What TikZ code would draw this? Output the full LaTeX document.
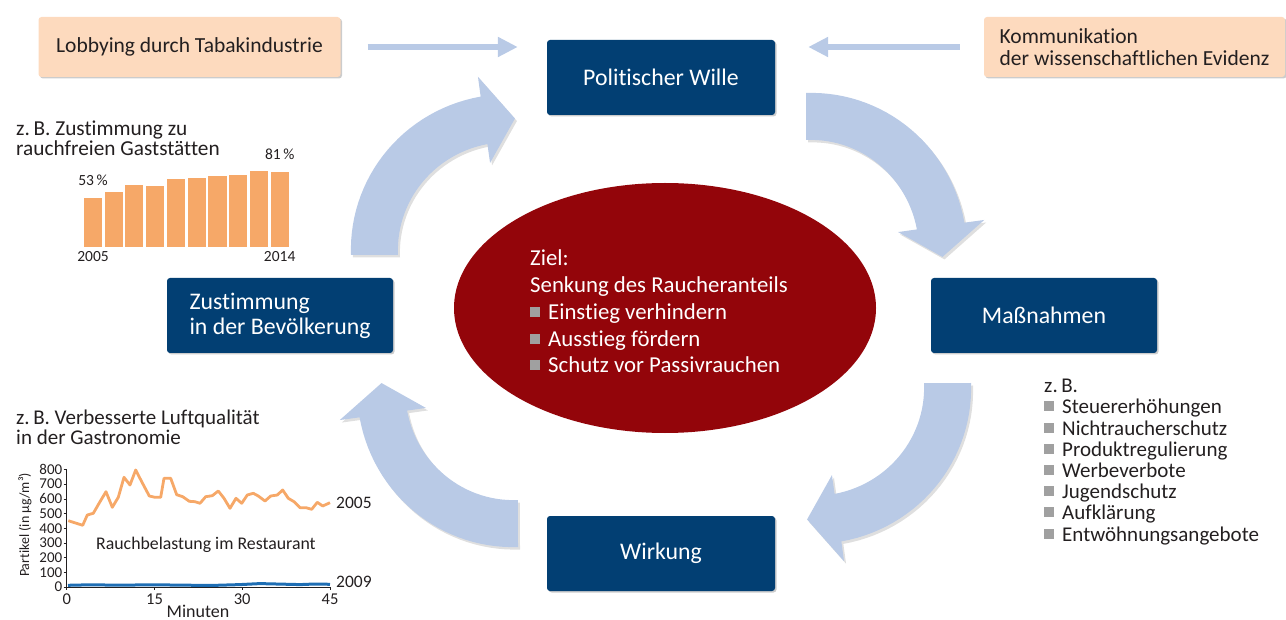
\documentclass[tikz,border=0pt]{standalone}
\usepackage{fontspec}
\setmainfont[Ligatures=NoCommon]{Carlito}
\usetikzlibrary{shadows,shapes.geometric,arrows.meta}
\definecolor{navy}{RGB}{2,63,115}
\definecolor{peach}{RGB}{253,218,190}
\definecolor{arrowblue}{RGB}{185,202,230}
\definecolor{darkred}{RGB}{147,5,10}
\definecolor{barorange}{RGB}{246,168,104}
\definecolor{lineblue}{RGB}{30,110,180}
\definecolor{textgray}{RGB}{35,31,32}
\definecolor{bulletgray}{RGB}{160,160,160}
\newcommand\sqbul{\textcolor{bulletgray}{\rule[2.5pt]{10pt}{10pt}}\hspace{8pt}}
\newcommand\curvedblock[3]{%
  \fill[bigarrow] plot[domain=0:1,samples=30] ({#1+(152+8*\x)*cos(#3-82*\x)},{#2-(152+8*\x)*sin(#3-82*\x)})
   -- ({#1+180*cos(#3-82)},{#2-180*sin(#3-82)})
   -- ({#1+137*cos(#3-95)},{#2-137*sin(#3-95)})
   -- ({#1+93*cos(#3-82)},{#2-93*sin(#3-82)})
   -- plot[domain=1:0,samples=30] ({#1+(105+7*\x)*cos(#3-82*\x)},{#2-(105+7*\x)*sin(#3-82*\x)})
   -- cycle;}
\begin{document}
\begin{tikzpicture}[x=1pt,y=-1pt,
  navybox/.style={fill=navy,text=white,rounded corners=3pt,minimum width=228pt,minimum height=75pt,
    align=left,font=\fontsize{23.8}{25}\selectfont,
    drop shadow={shadow xshift=1.5pt,shadow yshift=-1.5pt,opacity=0.4}},
  peachbox/.style={fill=peach,text=textgray,rounded corners=3pt,minimum width=302pt,minimum height=60pt,
    align=left,font=\fontsize{21.5}{22}\selectfont,
    drop shadow={shadow xshift=1.5pt,shadow yshift=-1.5pt,opacity=0.4}},
  harrow/.style={draw=arrowblue,line width=6pt,-{Triangle[length=20pt,width=19pt]}},
  bigarrow/.style={fill=arrowblue,drop shadow={shadow xshift=2pt,shadow yshift=-2.5pt,opacity=0.25}},
  plain/.style={inner sep=0pt,text=textgray},
  small/.style={plain,font=\fontsize{15.5}{16}\selectfont},
  tick/.style={plain,font=\fontsize{15}{15}\selectfont}
]
\useasboundingbox (0,0) rectangle (1286,620);

% curved block arrows
\curvedblock{806}{245}{90}
\curvedblock{819}{383}{0}
\curvedblock{518}{395}{-90}
\curvedblock{503}{255}{180}

% central goal
\node[ellipse,fill=darkred,minimum width=422pt,minimum height=250pt] (goal) at (665,308) {};
\node[plain,text=white,align=left,font=\fontsize{22.8}{26.8}\selectfont] (goaltext) at (659,311.5)
 {Ziel:\\Senkung des Raucheranteils\\\sqbul Einstieg verhindern\\\sqbul Ausstieg fördern\\\sqbul Schutz vor Passivrauchen};

% main boxes
\node[navybox] (pw) at (661,77.5) {Politischer Wille};
\node[navybox,minimum width=226pt] (mass) at (1044,315.5) {Maßnahmen};
\node[navybox] (wirk) at (661,553.5) {Wirkung};
\node[navybox,minimum width=226pt] (zust) at (280,315.5) {Zustimmung\\in der Bevölkerung};

% influence boxes
\node[peachbox] (lob) at (189.5,47) {Lobbying durch Tabakindustrie};
\node[peachbox,minimum width=301pt] (kom) at (1134.5,47) {Kommunikation\\der wissenschaftlichen Evidenz};
\draw[harrow] ([xshift=27pt]lob.east) -- ([xshift=-29pt]lob.east -| pw.west);
\draw[harrow] ([xshift=-24pt]kom.west) -- ([xshift=33pt]kom.west -| pw.east);

% list of measures
\node[plain,anchor=west,align=left,font=\fontsize{21}{21.2}\selectfont] (list) at (1044,462)
 {z.\,B.\\\sqbul Steuererhöhungen\\\sqbul Nichtraucherschutz\\\sqbul Produktregulierung\\\sqbul Werbeverbote\\\sqbul Jugendschutz\\\sqbul Aufklärung\\\sqbul Entwöhnungsangebote};

% bar chart
\node[plain,anchor=west,align=left,font=\fontsize{21.3}{19.5}\selectfont] (bartitle) at (16,138.5)
 {z.\,B. Zustimmung zu\\rauchfreien Gaststätten};
\foreach \xl/\t in {84/197.7,104.5/191.7,125.2/185,146/186,166.8/179,187.5/177.7,208.3/176,229/175,249.8/171,270.6/172}
  \fill[barorange] (\xl,\t) rectangle (\xl+18.2,246.7);
\node[small] (p53) at (93,180) {53\,\%};
\node[small] (p81) at (279.7,154) {81\,\%};
\node[small] (y05) at (93,257) {2005};
\node[small] (y14) at (279.7,257) {2014};

% line chart
\node[plain,anchor=west,align=left,font=\fontsize{21}{20}\selectfont] (linetitle) at (16,427)
 {z.\,B. Verbesserte Luftqualität\\in der Gastronomie};
\draw[textgray,line width=0.8pt] (66.7,469) -- (66.7,587) -- (330,587);
\foreach \v [count=\i from 0] in {0,100,200,300,400,500,600,700,800}{
  \draw[textgray,line width=0.6pt] (63.7,587-14.7*\i) -- (66.7,587-14.7*\i);
  \node[tick,anchor=east] at (62.5,587-14.7*\i) {\v};
}
\foreach \m/\xx in {0/66.7,15/154.5,30/242.2,45/330}{
  \draw[textgray,line width=0.6pt] (\xx,587) -- (\xx,590);
  \node[tick,font=\fontsize{16.5}{16}\selectfont] at (\xx,599) {\m};
}
\node[tick,font=\fontsize{18}{18}\selectfont] (minuten) at (198,611) {Minuten};
\node[tick,rotate=90,font=\fontsize{14}{14}\selectfont] (ylab) at (25,525) {Partikel (in µg/m³)};
\draw[barorange,line width=2.8pt,line join=round] plot coordinates {
 (68.3,520.7) (82.7,525.3) (87.3,515) (93.3,513.3) (100,501.7) (106,491.7) (112.3,507.3) (118.3,497.3)
 (124,477.3) (130,485) (135.7,470) (141.7,481.7) (149.3,496) (155,497.3) (160.7,497.3) (164,478.3)
 (170.7,478.3) (176.7,494.7) (182.7,496.7) (189.3,501.3) (195,501.7) (200,503.3) (205.7,496.7)
 (212.3,495.7) (218.3,491) (224,498.3) (230,508.3) (236,498.3) (241.7,503.3) (247.3,495) (253.3,493.3)
 (258.3,496) (265,501) (270.7,496) (277.3,495) (282.7,490) (288.3,498.3) (294,501.7) (300,507.7)
 (306,507.7) (311.7,509.3) (317.3,502.3) (322.7,506) (330,502.7)};
\draw[lineblue,line width=3pt] plot coordinates {(68,585.3) (90,584.8) (120,585.2) (150,584.8) (180,585.1)
 (210,585.5) (240,584.6) (260,583.6) (280,584.1) (300,584.6) (315,584) (330,584.3)};
\node[small,anchor=west,font=\fontsize{17.5}{18}\selectfont] (l05) at (336,503) {2005};
\node[small,anchor=west,font=\fontsize{17.5}{18}\selectfont] (l09) at (336,582) {2009};
\node[small,anchor=west,font=\fontsize{17.8}{18}\selectfont] (rauch) at (96,545) {Rauchbelastung im Restaurant};
\end{tikzpicture}
\end{document}
